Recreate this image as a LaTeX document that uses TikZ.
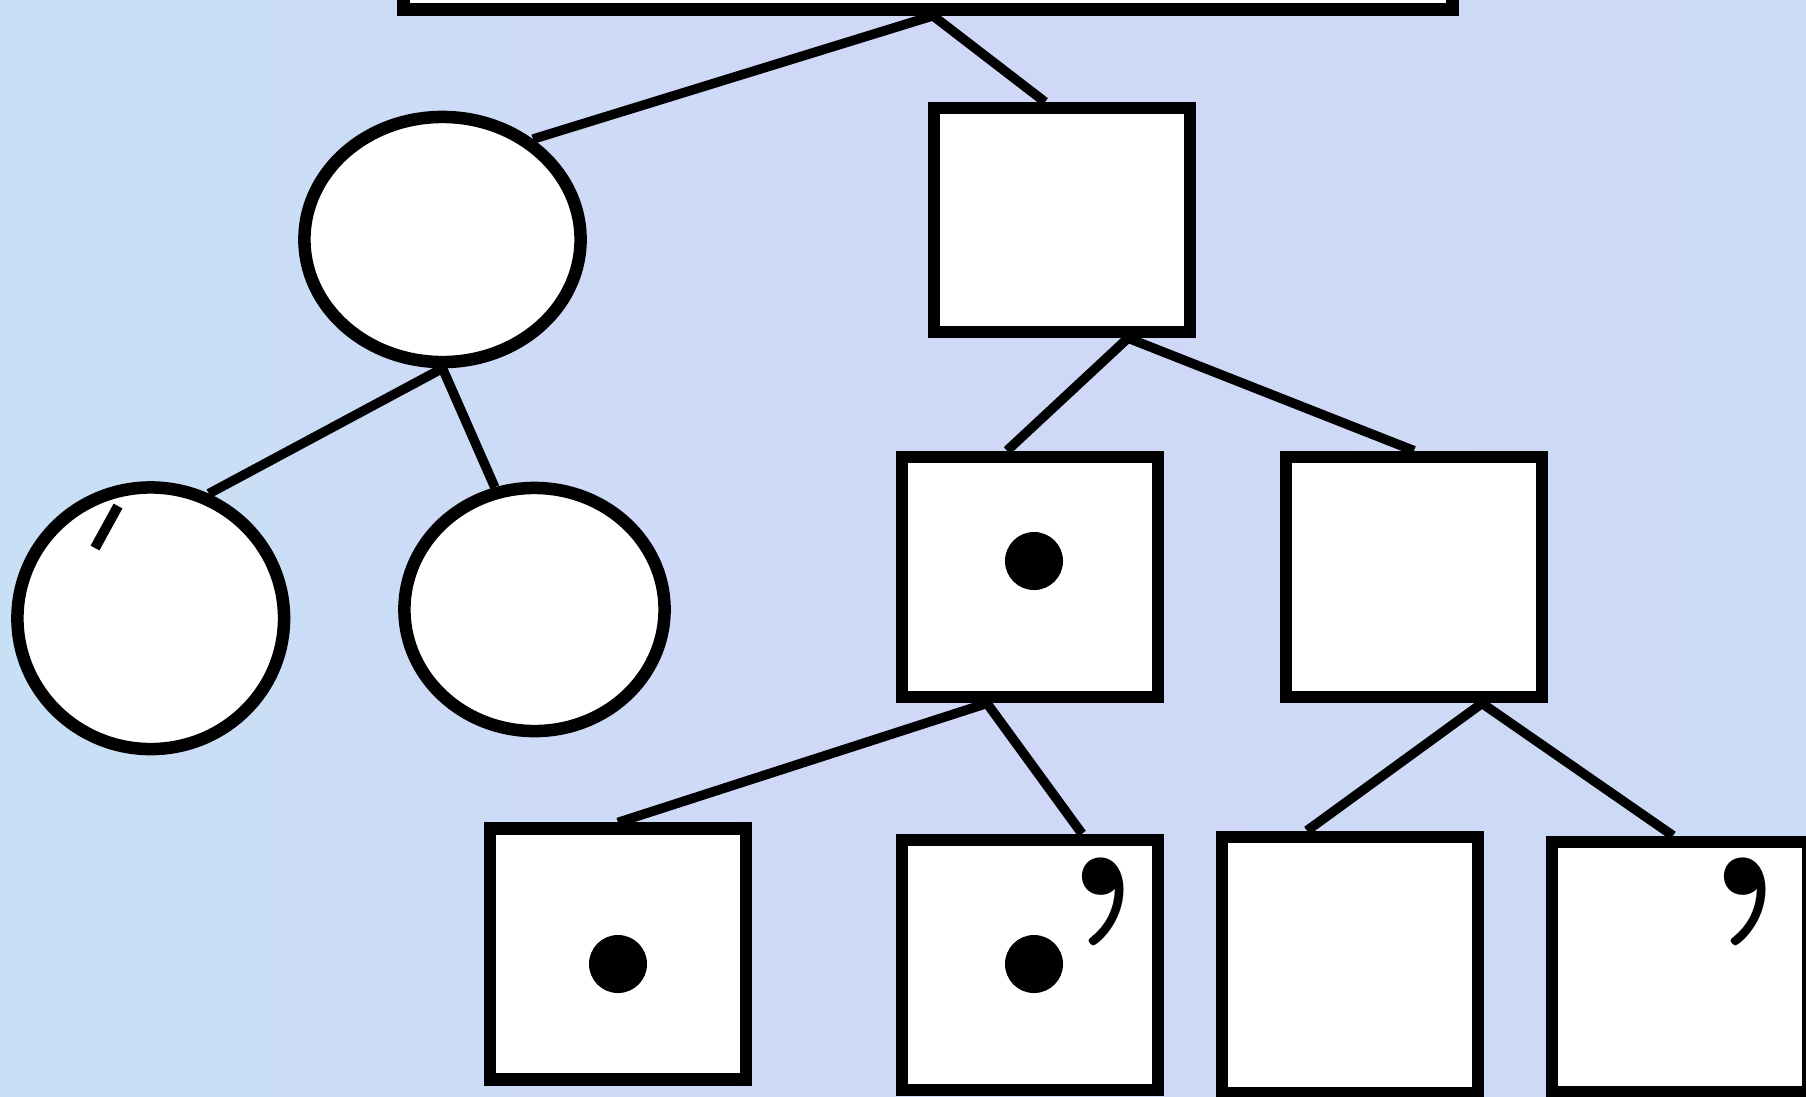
\documentclass[tikz,border=0pt]{standalone}
\usepackage{fontspec}
\usetikzlibrary{shapes,calc,positioning}
\definecolor{bgBlue}{RGB}{204,219,246}
\definecolor{bgCyan}{RGB}{200,224,246}
\definecolor{bgLilac}{RGB}{208,216,247}
\tikzset{
	ovalNode/.style={draw,ellipse,fill=white,line width=0.125cm,inner sep=0pt},
	boxNode/.style={draw,rectangle,fill=white,line width=0.125cm,inner sep=0pt,minimum width=2.56cm},
	link/.style={line width=0.095cm},
	dotMark/.style={circle,fill=black,inner sep=0pt,minimum size=0.58cm},
	quoteMark/.style={inner sep=0pt,anchor=north,font=\fontsize{74}{74}\selectfont\bfseries},
}
\begin{document}
\begin{tikzpicture}[x=0.01cm,y=-0.01cm]
	\useasboundingbox (0,0) rectangle (1806,1096);
	\clip (0,0) rectangle (1806,1096);
	\shade[left color=bgCyan,right color=bgBlue,middle color=bgLilac] (0,0) rectangle (1806,1096);
	
	\node (root) at (928,-45) [boxNode,minimum width=10.48cm,minimum height=1.09cm] {};
	\node (e1) at (442.5,239.5) [ovalNode,minimum width=2.76cm,minimum height=2.45cm] {};
	\node (r1) at (1062,220) [boxNode,minimum height=2.235cm] {};
	
	\node (c1) at (150.75,618.25) [ovalNode,minimum width=2.665cm,minimum height=2.615cm] {};
	\node (c2) at (534.5,609.5) [ovalNode,minimum width=2.6cm,minimum height=2.43cm] {};
	\node (m1) at (1030,577) [boxNode,minimum height=2.4cm] {};
	\node (m2) at (1414,577) [boxNode,minimum height=2.4cm] {};
	
	\node (bA) at (618,954) [boxNode,minimum height=2.505cm] {};
	\node (bB) at (1030,965) [boxNode,minimum height=2.5cm] {};
	\node (bC) at (1350,965) [boxNode,minimum height=2.56cm] {};
	\node (bD) at (1680,967) [boxNode,minimum height=2.5cm] {};
	
	% marks inside the nodes
	\node (dot1) at (1034,561) [dotMark] {};
	\node (dot2) at (618,964) [dotMark] {};
	\node (dot3) at (1034,964) [dotMark] {};
	\node (qB) at (1101,857) [quoteMark] {’};
	\node (qD) at (1743,857) [quoteMark] {’};
	\draw[line width=0.1cm] ($(c1)+(-55.75,-70.25)$) -- ($(c1)+(-32.75,-112.25)$);
	
	% connectors
	\coordinate (rootJ) at ($(root.south)+(5,0)$);
	\draw[link] (rootJ) -- (e1.48);
	\draw[link] (rootJ) -- ($(r1.north)+(-17,0)$);
	\draw[link] (e1.south) -- (c1.65);
	\draw[link] (e1.south) -- (c2.108);
	\coordinate (r1J) at ($(r1.south)+(66,0)$);
	\draw[link] (r1J) -- ($(m1.north)+(-23,0)$);
	\draw[link] (r1J) -- (m2.north);
	\coordinate (m1J) at ($(m1.south)+(-43,0)$);
	\draw[link] (m1J) -- (bA.north);
	\draw[link] (m1J) -- ($(bB.north)+(52,0)$);
	\coordinate (m2J) at ($(m2.south)+(68,0)$);
	\draw[link] (m2J) -- ($(bC.north)+(-43,0)$);
	\draw[link] (m2J) -- ($(bD.north)+(-7,0)$);
\end{tikzpicture}
\end{document}
